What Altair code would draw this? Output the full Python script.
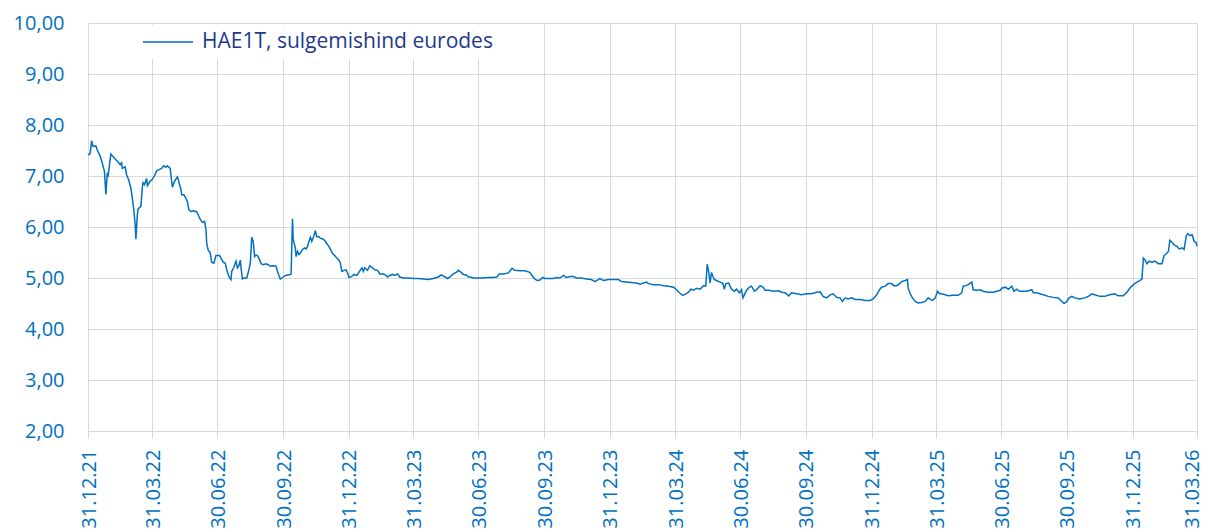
import altair as alt
import pandas as pd

series_name = "HAE1T, sulgemishind eurodes"
base_date = "2021-12-31"

# days since 31.12.21
day_offsets = [
    0, 3, 5, 7, 11, 13, 17, 20, 23, 25, 27, 28, 30, 32, 35, 39, 42, 45, 47, 48,
    52, 54, 57, 60, 62, 64, 66, 67, 69, 70, 74, 76, 77, 79, 82, 83, 87, 89, 93, 96,
    100, 103, 106, 109, 111, 115, 116, 118, 120, 122, 125, 127, 130, 131, 134, 137, 139, 141, 144, 147,
    152, 154, 157, 160, 163, 165, 166, 168, 171, 173, 176, 179, 184, 186, 189, 192, 194, 197, 200, 201,
    204, 207, 209, 211, 213, 214, 216, 218, 222, 225, 227, 229, 231, 233, 235, 237, 240, 242, 245, 249,
    252, 255, 259, 263, 265, 267, 269, 272, 276, 280, 284, 286, 287, 290, 291, 293, 295, 297, 300, 303,
    305, 307, 310, 311, 313, 316, 318, 320, 323, 325, 329, 332, 334, 337, 339, 342, 345, 348, 351, 353,
    355, 358, 361, 363, 365, 369, 372, 376,
    383, 385, 387, 391, 394, 398, 401, 405, 408, 412, 415, 419, 422, 426, 429, 433, 436, 441, 448, 455,
    462, 469, 476, 483, 490, 494, 498, 503, 506, 511, 516, 518, 521, 525, 529, 532, 535, 539, 546, 553,
    560, 567, 572, 575, 581, 588, 593, 597, 604, 611, 618, 622, 625, 628, 632, 636, 639, 646,
    651, 655, 660, 665, 669, 674, 679, 683, 690, 697, 704, 709, 716, 721, 728, 735, 742, 746, 753, 760,
    767, 772,
    781, 784, 791, 798, 805, 812, 819, 823, 827, 832, 836, 840, 843, 847, 851, 856, 861, 864, 866, 868,
    870, 872, 874, 876, 879, 884, 888, 890, 892, 896, 900, 904, 907, 911, 914, 916, 918, 921, 925, 928,
    932, 935, 940, 944, 947, 952, 959, 966, 970, 975, 980, 984, 991, 998, 1005, 1012, 1019, 1024, 1028, 1033,
    1038, 1042, 1047, 1052, 1055, 1059, 1063, 1068, 1073, 1080, 1087, 1094, 1098, 1103, 1107, 1110, 1115, 1119, 1124, 1127,
    1131, 1136, 1138, 1143, 1146, 1147, 1150, 1153, 1157, 1161, 1166, 1171, 1175, 1178, 1181, 1185, 1188, 1191, 1194, 1199,
    1203, 1210, 1217, 1222, 1224, 1228, 1231, 1236, 1238, 1243, 1248, 1252, 1259, 1266, 1271, 1276,
    1278, 1283, 1287, 1292, 1295, 1299, 1303, 1308, 1313, 1320, 1322, 1327, 1331, 1336, 1343, 1350, 1357, 1362, 1365, 1369,
    1372, 1376, 1380, 1387, 1394, 1399, 1404, 1408, 1415, 1422, 1429, 1436, 1441, 1448, 1453, 1457, 1462, 1467, 1471, 1474,
    1476, 1478, 1481, 1484, 1488, 1492, 1497, 1502, 1505, 1509, 1511, 1513, 1516, 1519, 1523, 1526, 1530, 1533, 1536, 1538,
    1541, 1544, 1547, 1550, 1551,
]

prices = [
    7.41, 7.44, 7.69, 7.58, 7.59, 7.51, 7.39, 7.25, 7.09, 6.64, 7.07, 6.98, 7.22, 7.43, 7.38, 7.32, 7.28, 7.22, 7.26, 7.15,
    7.18, 7.02, 6.92, 6.76, 6.56, 6.34, 6.04, 5.76, 6.24, 6.35, 6.41, 6.78, 6.87, 6.83, 6.95, 6.81, 6.90, 6.92, 7.00, 7.10,
    7.13, 7.15, 7.20, 7.17, 7.20, 7.15, 7.02, 6.78, 6.86, 6.92, 6.98, 6.89, 6.73, 6.63, 6.63, 6.56, 6.50, 6.34, 6.30, 6.32,
    6.30, 6.24, 6.15, 6.09, 6.11, 5.95, 5.68, 5.55, 5.49, 5.31, 5.29, 5.44, 5.44, 5.39, 5.31, 5.29, 5.16, 5.03, 4.97, 5.13,
    5.21, 5.33, 5.20, 5.24, 5.35, 5.20, 4.98, 5.00, 5.00, 5.16, 5.29, 5.80, 5.72, 5.42, 5.45, 5.44, 5.36, 5.28, 5.26, 5.28,
    5.26, 5.23, 5.24, 5.23, 5.13, 5.05, 4.98, 5.01, 5.05, 5.06, 5.07, 6.16, 5.75, 5.59, 5.42, 5.52, 5.46, 5.49, 5.56, 5.59,
    5.57, 5.62, 5.76, 5.80, 5.72, 5.83, 5.93, 5.81, 5.81, 5.78, 5.76, 5.72, 5.67, 5.62, 5.56, 5.48, 5.44, 5.39, 5.35, 5.29,
    5.13, 5.15, 5.16, 5.10, 5.01, 5.03, 5.07, 5.05,
    5.20, 5.13, 5.20, 5.15, 5.24, 5.20, 5.16, 5.15, 5.08, 5.08, 5.07, 5.02, 5.05, 5.07, 5.05, 5.08, 5.02, 5.00, 5.00, 4.99,
    4.99, 4.98, 4.97, 4.99, 5.02, 5.06, 5.03, 4.99, 5.02, 5.08, 5.12, 5.15, 5.12, 5.07, 5.06, 5.02, 5.02, 5.00, 5.00, 5.00,
    5.01, 5.01, 5.02, 5.08, 5.08, 5.10, 5.19, 5.15, 5.14, 5.14, 5.11, 5.03, 4.98, 4.95, 4.96, 5.01, 4.99, 4.99,
    4.99, 5.01, 5.00, 5.05, 5.01, 5.03, 5.03, 5.00, 5.00, 4.98, 4.97, 4.93, 4.99, 4.95, 4.97, 4.97, 4.97, 4.93, 4.92, 4.91,
    4.90, 4.88,
    4.92, 4.89, 4.87, 4.87, 4.85, 4.84, 4.82, 4.77, 4.71, 4.66, 4.69, 4.72, 4.78, 4.76, 4.80, 4.78, 4.85, 4.84, 5.27, 5.13,
    4.90, 5.11, 5.03, 4.97, 4.95, 4.92, 4.89, 4.78, 4.89, 4.90, 4.78, 4.74, 4.78, 4.71, 4.77, 4.61, 4.67, 4.76, 4.82, 4.84,
    4.74, 4.77, 4.85, 4.82, 4.76, 4.76, 4.74, 4.75, 4.72, 4.71, 4.65, 4.71, 4.69, 4.67, 4.69, 4.69, 4.72, 4.73, 4.64, 4.61,
    4.67, 4.69, 4.62, 4.61, 4.54, 4.61, 4.59, 4.61, 4.58, 4.58, 4.56, 4.56, 4.59, 4.67, 4.77, 4.82, 4.84, 4.89, 4.89, 4.85,
    4.85, 4.90, 4.93, 4.95, 4.97, 4.80, 4.69, 4.61, 4.54, 4.51, 4.52, 4.54, 4.61, 4.58, 4.56, 4.61, 4.74, 4.69, 4.69, 4.67,
    4.65, 4.66, 4.66, 4.71, 4.84, 4.85, 4.87, 4.92, 4.77, 4.76, 4.77, 4.74, 4.72, 4.72, 4.74, 4.76,
    4.80, 4.82, 4.78, 4.84, 4.74, 4.78, 4.74, 4.74, 4.74, 4.77, 4.71, 4.71, 4.69, 4.67, 4.64, 4.62, 4.61, 4.54, 4.50, 4.54,
    4.61, 4.64, 4.61, 4.59, 4.61, 4.64, 4.69, 4.67, 4.64, 4.64, 4.67, 4.69, 4.65, 4.65, 4.72, 4.80, 4.87, 4.92, 4.95, 4.98,
    5.39, 5.36, 5.28, 5.33, 5.31, 5.33, 5.28, 5.28, 5.44, 5.49, 5.52, 5.74, 5.70, 5.65, 5.62, 5.57, 5.59, 5.56, 5.83, 5.87,
    5.83, 5.85, 5.72, 5.69, 5.62,
]

tick_dates = [
    "2021-12-31", "2022-03-31", "2022-06-30", "2022-09-30", "2022-12-31",
    "2023-03-31", "2023-06-30", "2023-09-30", "2023-12-31", "2024-03-31",
    "2024-06-30", "2024-09-30", "2024-12-31", "2025-03-31", "2025-06-30",
    "2025-09-30", "2025-12-31", "2026-03-31",
]
y_ticks = [2, 3, 4, 5, 6, 7, 8, 9, 10]

LINE_COLOR = "#0070C0"
LABEL_COLOR = "#0070C0"
LEGEND_TEXT = "#1F3A8A"
GRID = "#D9D9D9"
FONT = "Open Sans"

dates = pd.Timestamp(base_date) + pd.to_timedelta(day_offsets, unit="D")
df = pd.DataFrame({"date": dates, "price": prices, "series": series_name})


def dt(s):
    t = pd.Timestamp(s)
    return alt.DateTime(year=t.year, month=t.month, date=t.day)


# keep the last (edge) tick label inside the page
last_label_shift = {"condition": {"test": "year(datum.value) == 2026", "value": -5}, "value": 1}

chart = (
    alt.Chart(df)
    .mark_line(strokeWidth=1.5)
    .encode(
        x=alt.X(
            "date:T",
            scale=alt.Scale(domain=[dt(tick_dates[0]), dt(tick_dates[-1])], nice=False),
            axis=alt.Axis(
                values=[dt(d) for d in tick_dates],
                format="%d.%m.%y",
                title=None,
                labelAngle=270,
                labelAlign="right",
                labelBaseline="middle",
                labelFont=FONT,
                labelFontSize=20,
                labelColor=LABEL_COLOR,
                labelPadding=11,
                labelOffset=last_label_shift,
                labelOverlap=False,
                labelFlush=False,
                grid=True,
                gridColor=GRID,
                gridWidth=1,
                domainColor=GRID,
                tickColor=GRID,
                tickSize=7,
            ),
        ),
        y=alt.Y(
            "price:Q",
            scale=alt.Scale(domain=[2, 10], nice=False, zero=False),
            axis=alt.Axis(
                values=y_ticks,
                labelExpr="replace(format(datum.value, '.2f'), '.', ',')",
                title=None,
                labelFont=FONT,
                labelFontSize=20,
                labelColor=LABEL_COLOR,
                labelPadding=24,
                ticks=False,
                domain=False,
                grid=True,
                gridColor=GRID,
                gridWidth=1,
            ),
        ),
        color=alt.Color(
            "series:N",
            scale=alt.Scale(domain=[series_name], range=[LINE_COLOR]),
            legend=alt.Legend(
                title=None,
                orient="none",
                legendX=48,
                legendY=2,
                fillColor="white",
                padding=6,
                clipHeight=22,
                symbolType="stroke",
                symbolSize=2500,
                symbolStrokeWidth=1.5,
                labelFont=FONT,
                labelFontSize=21,
                labelColor=LEGEND_TEXT,
                labelOffset=8,
                labelLimit=0,
            ),
        ),
    )
    .properties(
        width=1109,
        height=408,
        autosize=alt.AutoSizeParams(type="none"),
        padding={"left": 80, "top": 15, "right": 5, "bottom": 110},
    )
    .configure_view(strokeWidth=0)
)

chart.save("out.html", embed_options={"renderer": "svg", "actions": False})
